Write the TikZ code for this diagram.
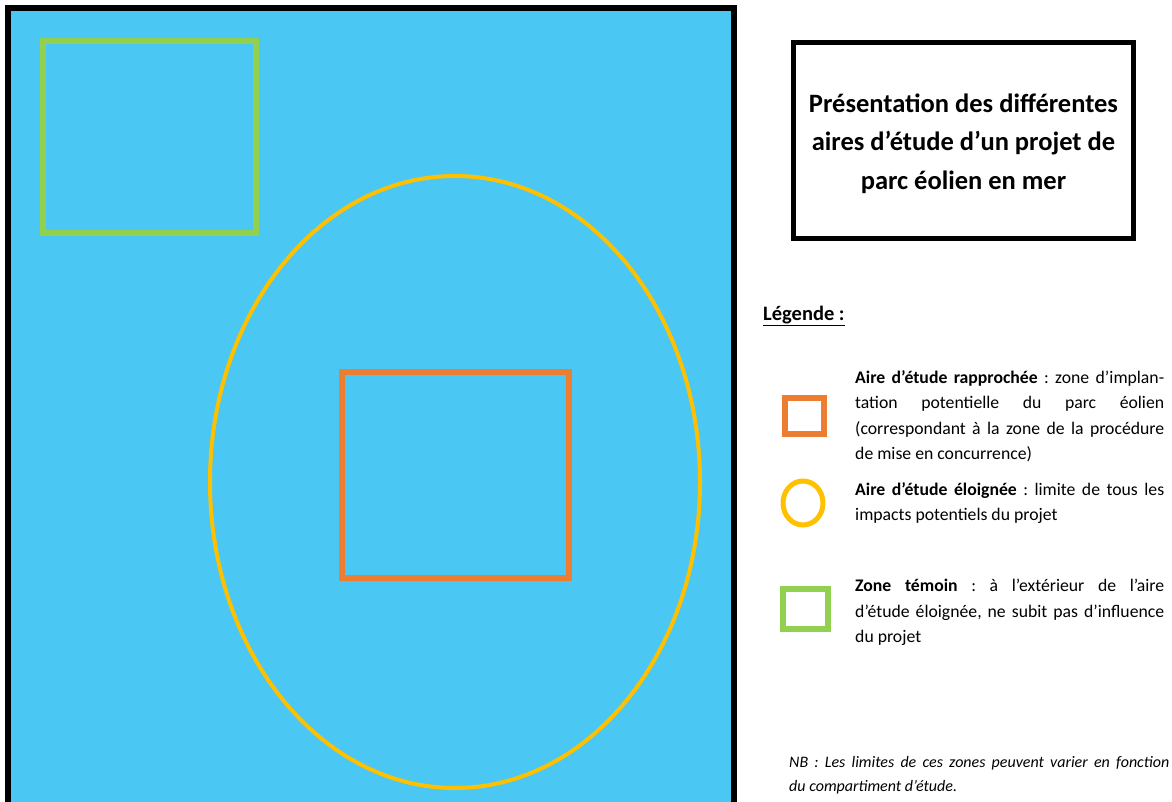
\documentclass[tikz,border=0pt]{standalone}
\usepackage{fontspec}
\setmainfont{Carlito}
\usepackage{xcolor}
\usetikzlibrary{positioning}
\definecolor{seablue}{RGB}{75,199,244}
\definecolor{temoin}{RGB}{146,208,80}
\definecolor{rapprochee}{RGB}{237,125,49}
\definecolor{eloignee}{RGB}{255,192,0}
\frenchspacing

\begin{document}
\begin{tikzpicture}[x=1pt,y=-1pt,
    zone/.style={line width=6pt},
    legtext/.style={anchor=north west,inner sep=0pt,text width=309pt,align=justify,font=\fontsize{17.7}{25.6}\selectfont}]
\useasboundingbox (0,0) rectangle (1172,802);
\clip (0,0) rectangle (1172,802);

% compartiment d'etude
\fill[seablue] (8,8) rectangle (734,830);
\draw[line width=6pt] (8,830) -- (8,8) -- (734,8) -- (734,830);

% aires d'etude
\draw[zone,temoin] (43,41) rectangle (256,233);
\draw[line width=4pt,eloignee] (455,482) ellipse [x radius=245, y radius=306];
\draw[zone,rapprochee] (342,372) rectangle (569,578);

% titre
\node (titre) [draw,line width=5pt,minimum width=340pt,minimum height=196pt] at (963.5,140.5) {};
\node (titretxt) [align=center,font=\fontsize{26.5}{38.5}\selectfont\bfseries] at ([yshift=-3pt]titre.center)
    {Présentation des différentes\\aires d’étude d’un projet de\\parc éolien en mer};

% legende
\node (legende) [anchor=west,inner sep=0pt,font=\fontsize{20.5}{24}\selectfont\bfseries] at (763,316)
    {\underline{Légende :}};

\draw[zone,rapprochee] (785,398) rectangle (824,434);
\node (txtrapp) [legtext] at (855,370)
    {\textbf{Aire d’étude rapprochée} : zone d’implan-\linebreak tation potentielle du parc éolien\linebreak (correspondant à la zone de la procédure\linebreak de mise en concurrence)};

\draw[line width=5pt,eloignee] (803,503) ellipse [x radius=20, y radius=22];
\node (txtelo) [legtext] at (855,482)
    {\textbf{Aire d’étude éloignée} : limite de tous les\linebreak impacts potentiels du projet};

\draw[zone,temoin] (783,589) rectangle (828,629);
\node (txttem) [legtext] at (855,579)
    {\textbf{Zone témoin} : à l’extérieur de l’aire\linebreak d’étude éloignée, ne subit pas d’influence\linebreak du projet};

% remarque
\node (nb) [anchor=north west,inner sep=0pt,text width=380pt,align=justify,
    font=\fontsize{16}{24}\selectfont\itshape] at (789,756)
    {NB : Les limites de ces zones peuvent varier en fonction\linebreak du compartiment d’étude.};
\end{tikzpicture}
\end{document}
